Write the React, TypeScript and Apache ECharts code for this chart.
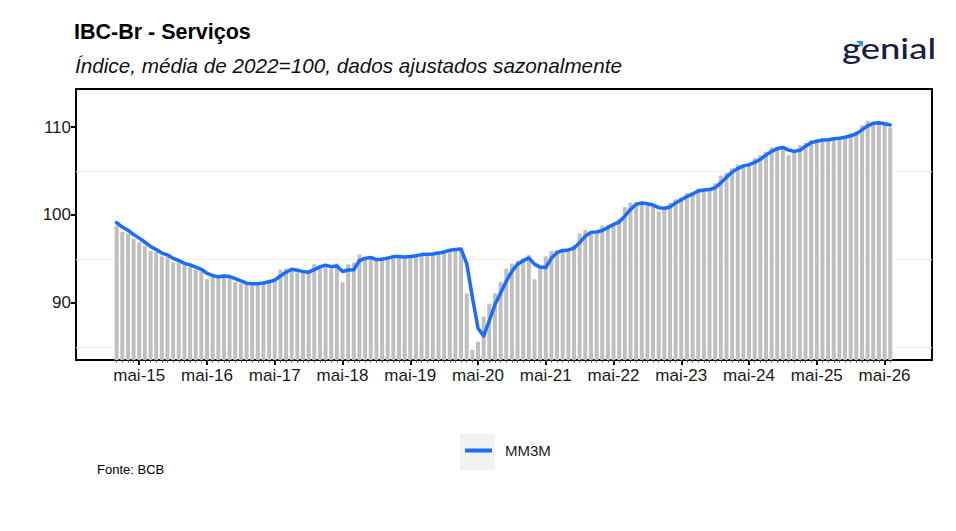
import React, { useEffect, useRef } from "react";
import * as echarts from "echarts";

const monthNames = ["jan", "fev", "mar", "abr", "mai", "jun", "jul", "ago", "set", "out", "nov", "dez"];
const years = ["15", "16", "17", "18", "19", "20", "21", "22", "23", "24", "25", "26"];

// IBC-Br Serviços, monthly (bars)
const services = [
  98.8, 98.1, 97.9, 97.3, 96.9, 96.5, 95.9, 95.8, 95.3, 95.3, 94.6, 94.6,
  94.3, 94.1, 93.8, 93.6, 92.7, 93.1, 93.1, 93.0, 92.9, 92.4, 92.2, 92.15,
  92.2, 92.25, 92.4, 92.6, 92.8, 93.8, 93.9, 93.8, 93.5, 93.4, 93.6, 94.4,
  94.3, 94.2, 93.9, 94.5, 92.35, 94.4, 94.6, 95.5, 95.1, 94.9, 94.8, 95.2,
  95.3, 95.3, 95.2, 95.2, 95.45, 95.45, 95.6, 95.6, 95.5, 95.9, 96.0, 96.1,
  96.1, 96.2, 91.1, 84.7, 85.6, 88.45, 89.9, 91.1, 92.4, 93.9, 94.5, 94.8,
  95.1, 95.45, 92.7, 94.1, 95.3, 95.9, 96.0, 96.0, 96.1, 96.6, 97.9, 98.3,
  97.9, 98.0, 98.8, 98.9, 99.1, 99.6, 100.9, 101.4, 101.4, 101.3, 101.1, 101.0,
  100.4, 100.9, 101.4, 101.8, 102.0, 102.5, 102.65, 103.0, 102.85, 102.85, 103.6, 104.5,
  104.8, 105.3, 105.75, 105.7, 105.75, 106.45, 106.8, 107.2, 107.7, 107.75, 107.6, 106.8,
  107.3, 107.95, 108.2, 108.5, 108.45, 108.6, 108.6, 108.8, 108.8, 108.9, 109.3, 109.5,
  110.2, 110.7, 110.35, 110.4, 110.35, 109.95,
];

// MM3M (line)
const mm3m = [
  99.13, 98.63, 98.27, 97.77, 97.37, 96.9, 96.43, 96.07, 95.67, 95.47, 95.07, 94.83,
  94.5, 94.33, 94.07, 93.83, 93.37, 93.13, 92.97, 93.07, 93.0, 92.77, 92.5, 92.25,
  92.18, 92.2, 92.28, 92.42, 92.6, 93.07, 93.5, 93.83, 93.73, 93.57, 93.5, 93.8,
  94.1, 94.3, 94.13, 94.2, 93.58, 93.75, 93.78, 94.83, 95.07, 95.17, 94.93, 94.97,
  95.1, 95.27, 95.27, 95.23, 95.28, 95.37, 95.5, 95.55, 95.57, 95.67, 95.8, 96.0,
  96.07, 96.13, 94.47, 90.67, 87.13, 86.25, 87.98, 89.82, 91.13, 92.47, 93.6, 94.4,
  94.8, 95.12, 94.42, 94.08, 94.03, 95.1, 95.73, 95.97, 96.03, 96.23, 96.87, 97.6,
  98.03, 98.07, 98.23, 98.57, 98.93, 99.2, 99.87, 100.63, 101.23, 101.37, 101.27, 101.13,
  100.83, 100.77, 100.9, 101.37, 101.73, 102.1, 102.38, 102.72, 102.83, 102.9, 103.1, 103.65,
  104.3, 104.87, 105.28, 105.58, 105.73, 105.97, 106.33, 106.82, 107.23, 107.55, 107.68, 107.38,
  107.23, 107.35, 107.82, 108.22, 108.38, 108.52, 108.55, 108.67, 108.73, 108.83, 109.0, 109.23,
  109.67, 110.13, 110.42, 110.48, 110.37, 110.23,
];

const yTicks = [90, 100, 110];
const yMinorGrid = [85, 95, 105];

const FONT = "'Liberation Sans', Arial, sans-serif";

export default function App() {
  const ref = useRef<HTMLDivElement>(null);

  useEffect(() => {
    if (!ref.current) return;
    const chart = echarts.init(ref.current, undefined, { renderer: "svg" });

    const dates: string[] = [];
    years.forEach((y) => monthNames.forEach((m) => dates.push(`${m}-${y}`)));
    const labels = dates.slice(0, services.length);
    const allIdx = labels.map((_, i) => i);
    const mayIdx = allIdx.filter((i) => labels[i].startsWith("mai"));

    const xMin = -7.2;
    const xMax = 144.4;

    const option: any = {
      animation: false,
      backgroundColor: "#ffffff",
      textStyle: { fontFamily: FONT },
      title: [
        {
          text: "IBC-Br - Serviços",
          left: 74,
          top: 21,
          padding: 0,
          textStyle: { fontFamily: FONT, fontSize: 21.5, fontWeight: "bold", color: "#000" },
        },
        {
          text: "Índice, média de 2022=100, dados ajustados sazonalmente",
          left: 75,
          top: 55,
          padding: 0,
          textStyle: { fontFamily: FONT, fontSize: 20.7, fontStyle: "italic", fontWeight: "normal", color: "#111" },
        },
        {
          text: "Fonte: BCB",
          left: 97,
          top: 463,
          padding: 0,
          textStyle: { fontFamily: FONT, fontSize: 13, fontWeight: "normal", color: "#000" },
        },
      ],
      grid: {
        left: 76,
        right: 24,
        top: 89,
        bottom: 171,
        show: true,
        borderColor: "#000",
        borderWidth: 2,
        backgroundColor: "rgba(0,0,0,0)",
      },
      legend: {
        data: ["MM3M"],
        left: 465,
        top: 443,
        padding: 0,
        icon: "rect",
        itemWidth: 27,
        itemHeight: 4,
        selectedMode: false,
        textStyle: { fontFamily: FONT, fontSize: 15, color: "#1a1a1a", padding: [0, 0, 0, 8] },
      },
      xAxis: [
        {
          type: "value",
          position: "bottom",
          min: xMin,
          max: xMax,
          axisLine: { show: false, onZero: false },
          splitLine: { show: false },
          axisTick: { show: true, customValues: mayIdx, length: 5, lineStyle: { color: "#000", width: 2 } },
          axisLabel: {
            customValues: mayIdx,
            formatter: (v: number) => labels[Math.round(v)] ?? "",
            fontFamily: FONT,
            fontSize: 17,
            color: "#1a1a1a",
            margin: 7,
          },
        },
        {
          type: "value",
          position: "bottom",
          min: xMin,
          max: xMax,
          axisLine: { show: false, onZero: false },
          splitLine: { show: false },
          axisTick: { show: true, customValues: allIdx, length: 2.5, lineStyle: { color: "#444", width: 1 } },
          axisLabel: { show: false },
        },
      ],
      yAxis: {
        type: "value",
        position: "left",
        min: 83.52,
        max: 114.32,
        axisLine: { show: false, onZero: false },
        splitLine: { show: false },
        axisTick: { show: true, customValues: yTicks, length: 5, lineStyle: { color: "#000", width: 2 } },
        axisLabel: { customValues: yTicks, fontFamily: FONT, fontSize: 17, color: "#1a1a1a", margin: 5 },
      },
      graphic: [
        {
          type: "rect",
          shape: { x: 460, y: 434, width: 35, height: 36 },
          style: { fill: "#f2f2f2" },
          z: 0,
          silent: true,
        },
        {
          type: "text",
          x: 842,
          y: 34,
          scaleX: 1.3,
          style: { text: "genial", font: "500 28px Lato, 'Open Sans', sans-serif", fill: "#1c1b40" },
          silent: true,
        },
        {
          type: "polygon",
          shape: { points: [[856, 41], [863, 41], [863, 47]] },
          style: { fill: "#2b8ef2" },
          silent: true,
        },
      ],
      series: [
        {
          name: "Serviços",
          type: "bar",
          data: services.map((v, i) => [i, v]),
          barWidth: 4,
          itemStyle: { color: "#bfbfbf" },
          z: 2,
          silent: true,
          markLine: {
            silent: true,
            z: 1,
            symbol: "none",
            label: { show: false },
            lineStyle: { color: "#f0f0f0", width: 1, type: "solid" },
            data: yMinorGrid.map((v) => ({ yAxis: v })),
          },
        },
        {
          name: "MM3M",
          type: "line",
          data: mm3m.map((v, i) => [i, v]),
          showSymbol: false,
          symbol: "none",
          z: 3,
          lineStyle: { color: "#1a6cff", width: 3.5, cap: "round", join: "round" },
          itemStyle: { color: "#1a6cff" },
          silent: true,
        },
      ],
    };

    chart.setOption(option);
    return () => chart.dispose();
  }, []);

  return (
    <div
      ref={ref}
      style={{ position: "fixed", left: 0, top: 0, width: 956, height: 531, background: "#fff" }}
    />
  );
}
